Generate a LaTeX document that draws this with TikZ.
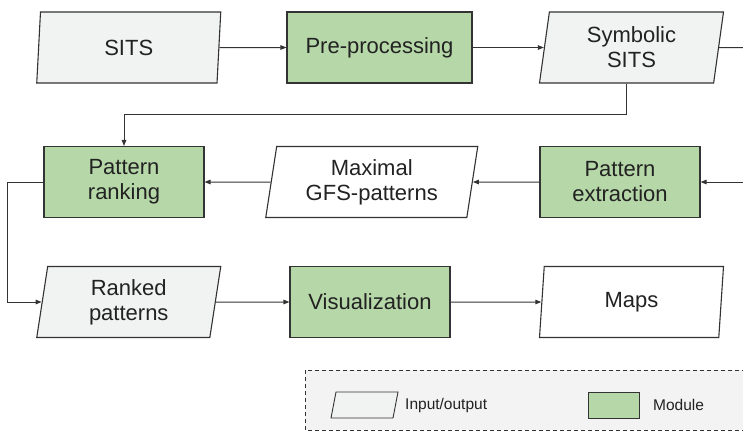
\documentclass[tikz,border=0pt]{standalone}
\usepackage{fontspec}
\setmainfont{Liberation Sans}
\usetikzlibrary{shapes.geometric,arrows.meta,calc}
\definecolor{modgreen}{HTML}{B6D7A8}
\definecolor{iogray}{HTML}{F1F2F2}
\definecolor{edgecol}{HTML}{333333}
\definecolor{legendbg}{HTML}{F3F3F3}
\definecolor{ink}{HTML}{222222}

\begin{document}
\begin{tikzpicture}[x=1pt,y=-1pt,
  box/.style={draw=edgecol, line width=1.1pt, text=ink,
    font=\fontsize{22}{25}\selectfont, align=center, inner sep=0pt},
  module/.style={box, rectangle, fill=modgreen, minimum height=71pt},
  io/.style={box, trapezium, trapezium left angle=76.5, trapezium right angle=103.5,
    trapezium stretches body, minimum height=71pt, minimum width=184pt, fill=iogray},
  arr/.style={draw=edgecol, line width=1pt, -{Triangle[length=6pt,width=4.5pt]}},
  conn/.style={draw=edgecol, line width=1pt},
  legtext/.style={text=ink, font=\fontsize{15.5}{18}\selectfont, inner sep=0pt, anchor=west},
  legsym/.style={draw=edgecol, line width=0.9pt}
]
\useasboundingbox (0,0) rectangle (743,432);

% legend panel (runs off the right edge)
\draw[draw=edgecol, fill=legendbg, line width=0.9pt, dash pattern=on 4pt off 3pt]
  (305,370) rectangle (770,430);

% first row
\node[io] (sits) at (128.75,47.5) {SITS};
\node[module, minimum width=185pt] (pre) at (379.5,47.5) {Pre-processing};
\node[io] (sym) at (631.5,47.5) {Symbolic\\SITS};

% second row
\node[module, minimum width=160pt] (rank) at (124,182) {Pattern\\ranking};
\node[io, fill=white, minimum width=212pt] (gfs) at (371.75,182) {Maximal\\GFS-patterns};
\node[module, minimum width=160pt] (extr) at (620,182) {Pattern\\extraction};

% third row
\node[io] (ranked) at (128.75,302) {Ranked\\patterns};
\node[module, minimum width=160pt] (vis) at (370,302) {Visualization};
\node[io, fill=white] (maps) at (631.5,302) {Maps};

% loose ends at the right border
\coordinate (outR) at (743,47.5);
\coordinate (inR) at (743,182);

% connectors
\draw[arr] (sits) -- (pre);
\draw[arr] (pre) -- (sym);
\draw[conn] (sym) -- (outR);
\draw[arr] (sym.bottom side) |- (124,114) -- (rank.north);
\draw[arr] (inR) -- (extr);
\draw[arr] (extr) -- (gfs);
\draw[arr] (gfs) -- (rank);
\draw[arr] (rank.west) -- (7,182) |- (ranked);
\draw[arr] (ranked) -- (vis);
\draw[arr] (vis) -- (maps);

% legend entries
\coordinate (legio) at (364.5,405);
\filldraw[legsym, fill=iogray]
  ($(legio)+(-33.5,13)$) -- ($(legio)+(28.5,13)$) --
  ($(legio)+(33.5,-13)$) -- ($(legio)+(-28.5,-13)$) -- cycle;
\node[legtext] (legiotxt) at (405,405) {Input/output};
\node[legsym, fill=modgreen, minimum width=51pt,
  minimum height=26pt, inner sep=0pt] (legmod) at (613.5,405) {};
\node[legtext] (legmodtxt) at (653,405) {Module};
\end{tikzpicture}
\end{document}
